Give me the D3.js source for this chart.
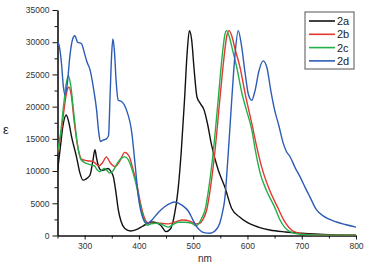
<!DOCTYPE html>
<html>
<head>
<meta charset="utf-8">
<script src="https://cdn.jsdelivr.net/npm/d3@7"></script>
<style>
	body { margin: 0; background: #fff; }
	svg { display: block; font-family: "Liberation Sans", Arial, sans-serif; }
</style>
</head>
<body>
<svg id="chart" width="365" height="264"></svg>
<script>
"use strict"

//
// data: [nm, epsilon]
//
var series = ["2a", "2b", "2c", "2d"];
var colors = ["#111111", "#e2382f", "#22b04a", "#2c5cb6"];

var data2a = [[250,10000],[255,13500],[260,17000],[266,18700],[271,17500],[276,15300],[285,12200],[291,9800],[297,8600],
	[303,8800],[310,9400],[315,11500],[319,13300],[322,12000],[325,10900],[331,10100],[337,10200],[343,10400],[348,10000],
	[353,9100],[358,6500],[362,4000],[367,2200],[374,1100],[385,700],[395,900],[408,1500],[423,2100],[435,1900],[442,1400],
	[450,600],[458,1000],[465,3000],[472,7000],[478,13000],[484,21000],[489,28500],[493,31800],[497,30500],[502,25500],
	[507,21500],[513,20500],[520,19500],[526,17500],[534,14000],[546,10200],[558,7600],[571,4200],[585,2900],[598,2100],
	[620,1300],[641,850],[670,550],[700,350],[740,150],[800,50]];

var data2b = [[250,12800],[256,15500],[262,19500],[267,22300],[271,23000],[275,22000],[281,17500],[288,13500],[295,11800],
	[305,11600],[315,11500],[320,11200],[326,10800],[333,11300],[340,12200],[347,11300],[356,10700],[365,11600],[374,12900],
	[382,12300],[389,10300],[396,8000],[403,5000],[410,2800],[416,2000],[425,1900],[440,1900],[455,1800],[470,2200],
	[480,2400],[495,2200],[505,1800],[512,1900],[518,2500],[525,4000],[532,7500],[540,13000],[549,21000],[556,27000],
	[562,31000],[566,31800],[571,31000],[577,29000],[586,26200],[597,21500],[608,17400],[617,13800],[626,10700],[640,7200],
	[656,4300],[667,2400],[686,600],[710,150],[760,50],[800,30]];

var data2c = [[250,13000],[256,16000],[261,20000],[266,23500],[270,24800],[274,23500],[280,19000],[287,14000],[293,11800],
	[300,11300],[310,11000],[318,10800],[323,10200],[328,9900],[332,10200],[337,10400],[342,10000],[346,9700],[352,10000],
	[360,11200],[368,12000],[374,12200],[382,11500],[389,9800],[396,7500],[403,4500],[410,2300],[415,1600],[422,1800],
	[430,1900],[440,1800],[454,1300],[465,1800],[472,2050],[485,2050],[497,1900],[505,1500],[510,1800],[515,2600],
	[522,4000],[529,7500],[537,13000],[546,21000],[553,27500],[558,31000],[561,31800],[566,31000],[572,29000],[580,26200],
	[590,22000],[598,19500],[608,16400],[615,13000],[623,9800],[635,7000],[650,4400],[660,2400],[678,600],[700,150],
	[750,50],[800,30]];

var data2d = [[250,30100],[253,29500],[257,27000],[261,23000],[264,21800],[268,23500],[273,28000],[278,30500],[282,31000],
	[287,30000],[294,29800],[300,28200],[304,27000],[310,25700],[316,23000],[322,19500],[326,16000],[329,14600],[334,14800],
	[340,15000],[344,15500],[347,22000],[350,28500],[352,30500],[355,28500],[358,24000],[362,21000],[368,20800],[377,19500],
	[387,15900],[393,11000],[399,6000],[403,4000],[407,2800],[411,2100],[416,1900],[425,2500],[435,3500],[448,4500],
	[458,5000],[466,5200],[475,4900],[484,4400],[491,3800],[499,2500],[506,1400],[514,700],[522,400],[531,350],[540,700],
	[549,1900],[555,4000],[558,5500],[564,12000],[571,21000],[577,28000],[583,31800],[589,29500],[596,25000],[602,21800],
	[608,21000],[614,22500],[621,25500],[629,27100],[636,26000],[643,22500],[650,19500],[658,17000],[666,14300],[672,13000],
	[678,12300],[688,10500],[697,9100],[706,7500],[715,6000],[727,4000],[740,3000],[764,2100],[780,1700],[800,1300]];

var allData = [data2a, data2b, data2c, data2d];

var xMajor = [300, 400, 500, 600, 700, 800];
var xMinor = [250, 350, 450, 550, 650, 750];
var yMajor = [0, 5000, 10000, 15000, 20000, 25000, 30000, 35000];
var yMinor = [2500, 7500, 12500, 17500, 22500, 27500, 32500];

//
// layout
//
var plotLeft = 57.5, plotRight = 356, plotTop = 10, plotBottom = 235.5;

var svg = d3.select("#chart");

var x = d3.scaleLinear().domain([250, 800]).range([plotLeft, plotRight]);
var y = d3.scaleLinear().domain([0, 35000]).range([plotBottom, plotTop]);

// minor ticks first, then major axis on top
svg.append("g")
	.attr("transform", "translate(0," + plotBottom + ")")
	.call(d3.axisBottom(x).tickValues(xMinor).tickSize(3).tickFormat(""))
	.call(function(g) { g.select(".domain").remove(); });
svg.append("g")
	.attr("transform", "translate(" + plotLeft + ",0)")
	.call(d3.axisLeft(y).tickValues(yMinor).tickSize(3).tickFormat(""))
	.call(function(g) { g.select(".domain").remove(); });

var xAxis = svg.append("g")
	.attr("transform", "translate(0," + plotBottom + ")")
	.call(d3.axisBottom(x).tickValues(xMajor).tickSize(4).tickSizeOuter(0).tickPadding(3).tickFormat(d3.format("d")));
var yAxis = svg.append("g")
	.attr("transform", "translate(" + plotLeft + ",0)")
	.call(d3.axisLeft(y).tickValues(yMajor).tickSize(5).tickSizeOuter(0).tickPadding(3).tickFormat(d3.format("d")));

svg.selectAll(".tick line").attr("stroke", "#111").attr("stroke-width", 1);
svg.selectAll(".domain").attr("stroke", "#111").attr("stroke-width", 1.6);
xAxis.selectAll("text").attr("font-size", 8.5).attr("fill", "#333").attr("font-family", "Liberation Sans, Arial, sans-serif");
yAxis.selectAll("text").attr("font-size", 8.5).attr("fill", "#333").attr("font-family", "Liberation Sans, Arial, sans-serif");

//
// curves
//
var line = d3.line()
	.x(function(d) { return x(d[0]); })
	.y(function(d) { return y(d[1]); })
	.curve(d3.curveMonotoneX);

svg.append("clipPath").attr("id", "plotclip")
	.append("rect").attr("x", plotLeft).attr("y", plotTop - 2)
	.attr("width", plotRight - plotLeft).attr("height", plotBottom - plotTop + 2);

svg.append("g").attr("clip-path", "url(#plotclip)")
	.selectAll("path")
	.data(allData)
	.enter().append("path")
	.attr("d", line)
	.attr("fill", "none")
	.attr("stroke", function(d, i) { return colors[i]; })
	.attr("stroke-width", 1.4)
	.attr("stroke-linejoin", "round");

//
// axis titles
//
svg.append("text").attr("x", 3).attr("y", 134)
	.attr("font-size", 13).attr("fill", "#222").text("ε");
svg.append("text").attr("x", 205).attr("y", 262).attr("text-anchor", "middle")
	.attr("font-size", 10).attr("fill", "#333").text("nm");

//
// legend
//
var legend = svg.append("g").attr("transform", "translate(305,12)");
legend.append("rect")
	.attr("x", 0).attr("y", 0).attr("width", 49).attr("height", 57)
	.attr("fill", "#fff").attr("stroke", "#555").attr("stroke-width", 1);
var rows = legend.selectAll("g.row").data(series).enter().append("g")
	.attr("class", "row")
	.attr("transform", function(d, i) { return "translate(0," + (9 + i * 13.3) + ")"; });
rows.append("line")
	.attr("x1", 4).attr("x2", 30).attr("y1", 0).attr("y2", 0)
	.attr("stroke", function(d, i) { return colors[i]; })
	.attr("stroke-width", 1.6);
rows.append("text")
	.attr("x", 32).attr("y", 4)
	.attr("font-size", 11).attr("fill", "#222")
	.text(function(d) { return d; });
</script>
</body>
</html>
